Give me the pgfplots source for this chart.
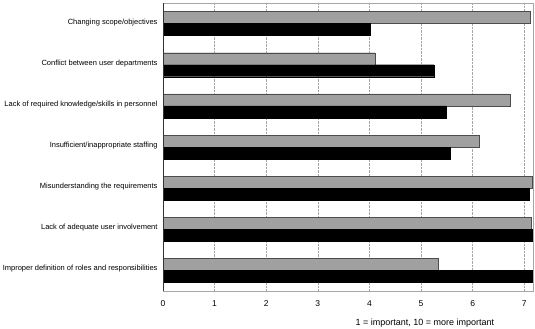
\documentclass[border=0pt]{standalone}
\usepackage{fontspec}
\setmainfont{Liberation Sans}
\usepackage{pgfplots}
\pgfplotsset{compat=1.18}
\definecolor{barg}{RGB}{160,160,160}
\begin{document}
\begin{tikzpicture}[x=1pt,y=1pt]
\useasboundingbox (0,0) rectangle (535,329);
\begin{axis}[
  at={(163pt,38pt)}, anchor=south west,
  scale only axis, width=370pt, height=288pt,
  xmin=0, xmax=7.17, ymin=-0.5, ymax=6.5, y dir=reverse,
  xbar, bar width=12pt,
  ytick={0,1,2,3,4,5,6},
  yticklabels={Changing scope/objectives,Conflict between user departments,Lack of required knowledge/skills in personnel,Insufficient/inappropriate staffing,Misunderstanding the requirements,Lack of adequate user involvement,Improper definition of roles and responsibilities},
  xtick={0,1,2,3,4,5,6,7},
  major tick length=0pt,
  /pgf/number format/assume math mode=true,
  yticklabel style={font=\fontsize{7.5}{9.5}\selectfont, xshift=-2pt, yshift=1.5pt},
  xticklabel style={font=\fontsize{8.5}{10}\selectfont, yshift=-6pt},
  xmajorgrids, grid style={densely dotted, gray!70},
  axis line style={gray!70},
  clip=false,
]
\addplot[fill=barg, draw=black!70, bar shift=6pt] coordinates {(7.11,0) (4.11,1) (6.72,2) (6.12,3) (7.15,4) (7.13,5) (5.33,6)};
\addplot[fill=black, draw=black, bar shift=-6pt] coordinates {(4.01,0) (5.25,1) (5.48,2) (5.56,3) (7.09,4) (7.15,5) (7.15,6)};
\draw[black!80] (rel axis cs:0,0) -- (rel axis cs:0,1);
\node[font=\fontsize{9}{11}\selectfont, anchor=center] at ([yshift=-32pt]rel axis cs:0.708,0) {1 = important, 10 = more important};
\end{axis}
\end{tikzpicture}
\end{document}
